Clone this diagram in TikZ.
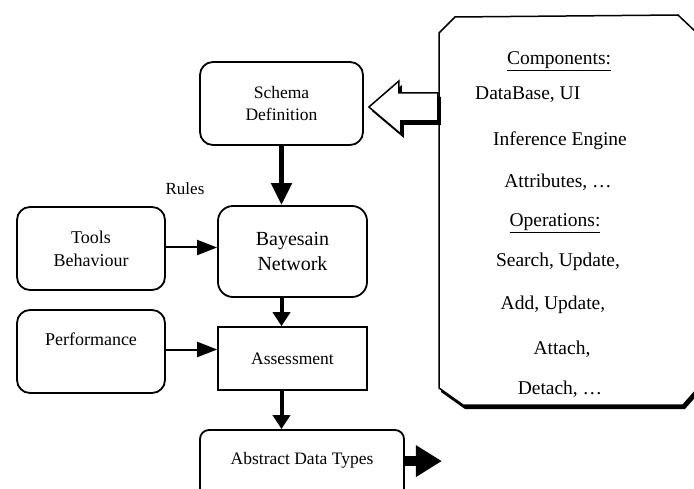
\documentclass[tikz,border=0pt]{standalone}
\usepackage{fontspec}
\setmainfont{Liberation Serif}
\usetikzlibrary{arrows.meta,calc}

\tikzset{
  roundbox/.style={draw, line width=1.8pt, rounded corners=13pt, inner sep=0pt, align=center},
  plainbox/.style={draw, line width=1.6pt, inner sep=0pt, align=center},
  thickarrow/.style={line width=5pt, -{Triangle[width=20pt,length=22pt]}},
  midarrow/.style={line width=4pt, -{Triangle[width=17pt,length=14pt]}},
  thinarrow/.style={line width=2pt, -{Triangle[width=15pt,length=20pt]}},
  bigarrow/.style={line width=10pt, -{Triangle[width=30pt,length=26pt]}},
  fA/.style={font=\fontsize{17.5}{22}\selectfont},
  fB/.style={font=\fontsize{20}{25}\selectfont},
  fC/.style={font=\fontsize{19.5}{22}\selectfont},
  paneltext/.style={fC, anchor=base, inner sep=0pt},
}

% outline of the hollow block arrow, starting at its tip
\newcommand\blockarrowfrom[1]{#1 -- ++(30,-26) -- ++(0,12) -- ++(39,0) -- ++(0,28) -- ++(-37,0) -- ++(0,13) -- cycle}

\begin{document}
\begin{tikzpicture}[x=1pt,y=-1pt]
\useasboundingbox (0,0) rectangle (694,489);
\clip (0,0) rectangle (694,489);

% ---- flow boxes ----
\node[roundbox, fA, minimum width=163pt, minimum height=83pt] (schema) at (281.5,103.5)
  {Schema\\Definition};
\node[roundbox, fB, rounded corners=15pt, minimum width=149pt, minimum height=91pt] (bayes) at (292.5,251.5)
  {Bayesain\\Network};
\node[roundbox, font=\fontsize{18}{23}\selectfont, minimum width=148pt, minimum height=83pt] (tools) at (91,248.5)
  {Tools\\Behaviour};
\node[roundbox, minimum width=148pt, minimum height=83pt] (perf) at (91,351.5) {};
\node[font=\fontsize{18}{22}\selectfont, inner sep=0pt] (perftext) at ($(perf.center)+(0,-12)$) {Performance};
\node[plainbox, fA, minimum width=149pt, minimum height=63pt] (assess) at (292.5,358.5) {Assessment};
\node[roundbox, rounded corners=9pt, minimum width=204pt, minimum height=90pt] (adt) at (302,475) {};
\node[fA, inner sep=0pt] (adttext) at ($(adt.north)+(0,31)$) {Abstract Data Types};

\node[font=\fontsize{17}{20}\selectfont, anchor=base, inner sep=0pt] (rules) at (185,195) {Rules};

% ---- connectors ----
\draw[thickarrow] (schema.south) -- (schema.south |- bayes.north);
\draw[midarrow] (schema.south |- bayes.south) -- (schema.south |- assess.north);
\draw[midarrow] (schema.south |- assess.south) -- (schema.south |- adt.north);
\draw[thinarrow] ($(tools.east)+(0,-1)$) -- ($(tools.east -| bayes.west)+(0,-1)$);
\draw[thinarrow] ($(perf.east)+(0,-2)$) -- ($(perf.east -| assess.west)+(0,-2)$);
\coordinate (adtout) at ($(adt.north east)+(0,32)$);
\coordinate (adtend) at ($(adtout)+(37,0)$);
\draw[bigarrow] (adtout) -- (adtend);

% ---- component panel with drop shadow ----
\def\panelpath{(439,33) -- (455,17) -- (678,15) -- (698,34) -- (698,388) -- (683,405) -- (463,405) -- (439,388) -- cycle}
\fill[black] [shift={(2,4)}] \panelpath;
\filldraw[fill=white, draw=black, line width=1.5pt] \panelpath;

\node[paneltext] (c1) at (559,65) {\underline{Components:}};
\node[paneltext, anchor=base west] (c2) at (475,100) {DataBase, UI};
\node[paneltext] (c3) at (560,146) {Inference Engine};
\node[paneltext] (c4) at (558,188) {Attributes, \dots};
\node[paneltext] (c5) at (555,227) {\underline{Operations:}};
\node[paneltext] (c6) at (558,267) {Search, Update,};
\node[paneltext] (c7) at (553,310) {Add, Update,};
\node[paneltext] (c8) at (562,355) {Attach,};
\node[paneltext] (c9) at (560,394) {Detach, \dots};

% ---- hollow block arrow from the panel into the schema box ----
\coordinate (tip) at ($(schema.east)+(5,3.5)$);
\fill[black] \blockarrowfrom{($(tip)+(3,4)$)};
\filldraw[fill=white, draw=black, line width=1.5pt] \blockarrowfrom{(tip)};
\end{tikzpicture}
\end{document}
